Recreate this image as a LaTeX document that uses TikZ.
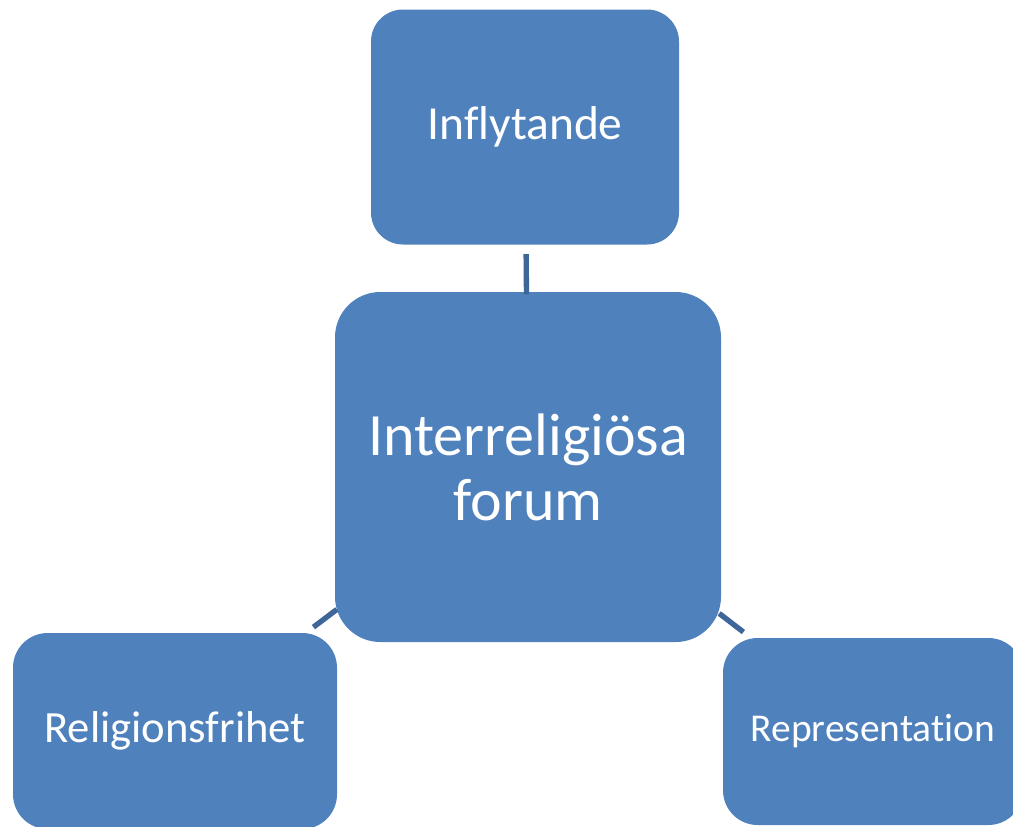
\documentclass[tikz,border=0pt]{standalone}
\usepackage{fontspec}
\setmainfont{Carlito}[Ligatures={NoCommon}]
\definecolor{boxfill}{RGB}{79,129,189}
\definecolor{linkcol}{RGB}{62,102,152}
\begin{document}
\begin{tikzpicture}[x=0.75pt,y=-0.75pt,
  card/.style={fill=boxfill,draw=none,rectangle,text=white,align=center,inner sep=0pt},
  link/.style={draw=linkcol,line width=4pt,shorten <=-2pt,shorten >=7pt}]
\path[use as bounding box] (0,0) rectangle (1013,826);
\clip (0,0) rectangle (1013,826);
\node[card,minimum width=231pt,minimum height=176.25pt,rounded corners=24pt,font=\fontsize{35.6}{42}\selectfont] (top) at (525,127) {Inflytande};
\node[card,minimum width=289.5pt,minimum height=262.5pt,rounded corners=34pt,font=\fontsize{45}{48.75}\selectfont] (center) at (528,467) {Interreligiösa\\forum};
\node[card,minimum width=243pt,minimum height=147pt,rounded corners=26pt,font=\fontsize{33.5}{40}\selectfont] (left) at (175,731) {Religionsfrihet};
\node[card,minimum width=225pt,minimum height=140.25pt,rounded corners=26pt,font=\fontsize{29.6}{35}\selectfont] (right) at (873,731.5) {Representation};
\draw[link] (center) -- (top);
\draw[link] (center) -- (left);
\draw[link] (center) -- (right);
\end{tikzpicture}
\end{document}
